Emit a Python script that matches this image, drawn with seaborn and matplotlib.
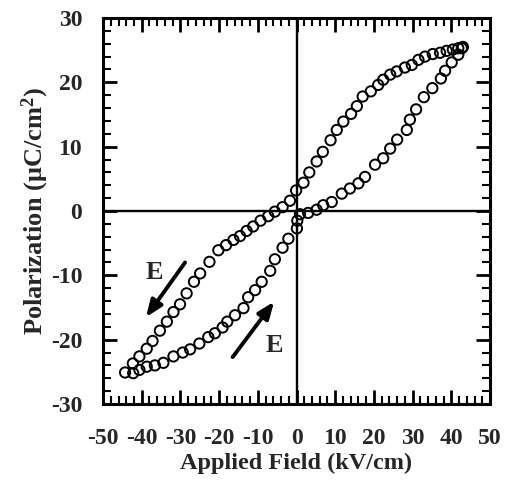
import matplotlib

matplotlib.use('Agg')
import matplotlib.pyplot as plt
import seaborn as sns
from matplotlib.ticker import MultipleLocator

# descending branch (field going from +E max to -E max)
upper_x = [43.0, 41.8, 40.4, 38.8, 37.1, 35.2, 33.2, 31.5, 29.8, 28.0, 25.9, 24.2,
           22.4, 21.1, 19.2, 17.1, 15.6, 14.1, 12.1, 10.4, 8.8, 6.8, 5.2, 3.3, 1.8,
           -0.1, -1.7, -3.6, -5.6, -7.3, -9.3, -11.2, -12.9, -14.6, -16.3, -18.2,
           -20.2, -22.5, -24.9, -26.5, -28.4, -30.1, -31.8, -33.5, -35.3, -37.2,
           -38.7, -40.6, -42.3, -44.3]
upper_y = [25.5, 25.3, 25.1, 24.9, 24.6, 24.4, 24.0, 23.5, 22.7, 22.3, 21.7, 21.2,
           20.4, 19.6, 18.6, 17.8, 16.3, 15.1, 13.9, 12.6, 11.0, 9.2, 7.7, 6.0, 4.4,
           3.2, 1.6, 0.6, -0.1, -0.8, -1.5, -2.4, -3.1, -3.9, -4.5, -5.3,
           -6.1, -7.9, -9.7, -11.0, -12.8, -14.5, -15.7, -17.2, -18.6, -20.2,
           -21.4, -22.6, -23.7, -25.1]

# ascending branch (field going from -E max to +E max)
lower_x = [-42.2, -40.6, -38.7, -36.6, -34.4, -31.8, -29.4, -27.5, -25.1, -22.8,
           -21.1, -19.1, -17.9, -15.9, -13.7, -12.5, -10.7, -9.0, -6.8, -5.6, -3.6,
           -2.1, 0.1, 0.2, 0.9, 3.0, 5.2, 6.9, 9.1, 11.7, 13.8, 16.0, 17.7, 20.3,
           22.4, 24.2, 26.0, 28.5, 29.3, 30.9, 32.9, 35.1, 37.3, 38.4, 40.1, 41.8, 42.7]
lower_y = [-25.2, -24.7, -24.2, -24.0, -23.6, -22.6, -22.0, -21.5, -20.6, -19.6,
           -19.0, -18.1, -17.2, -16.2, -15.1, -13.4, -12.3, -11.0, -9.3, -7.5, -5.7,
           -4.3, -2.7, -1.5, -0.5, -0.3, 0.2, 0.9, 1.4, 2.7, 3.5, 4.3, 5.3, 7.2,
           8.2, 9.7, 11.1, 12.6, 14.2, 15.8, 17.7, 19.1, 20.6, 21.8, 23.1, 24.3, 25.3]

# field direction arrows: (tail, head, label position)
arrow_tails = [(-28.8, -8.0), (-16.5, -22.7)]
arrow_heads = [(-38.9, -16.5), (-5.8, -14.1)]
arrow_labels = [(-36.8, -9.6), (-5.8, -20.9)]

sns.set_style('ticks')
plt.rcParams['font.family'] = ['Liberation Serif', 'DejaVu Serif']
plt.rcParams['font.weight'] = 'bold'
plt.rcParams['axes.unicode_minus'] = False
plt.rcParams['mathtext.fontset'] = 'custom'
plt.rcParams['mathtext.rm'] = 'Liberation Serif:bold'
plt.rcParams['mathtext.it'] = 'Liberation Serif:bold'
plt.rcParams['mathtext.bf'] = 'Liberation Serif:bold'

fig = plt.figure(figsize=(5.06, 4.87), dpi=100)
ax = fig.add_axes([0.2036, 0.1704, 0.7648, 0.7926])

ax.axhline(0, color='black', lw=1.7, zorder=1)
ax.axvline(0, color='black', lw=1.7, zorder=1)

for xs, ys in [(upper_x, upper_y), (lower_x, lower_y)]:
    sns.scatterplot(x=xs, y=ys, ax=ax, marker='o', s=55, fc='none',
                    ec='black', linewidth=1.4, zorder=3)

for tail, head, lab in zip(arrow_tails, arrow_heads, arrow_labels):
    ax.annotate('', xy=head, xytext=tail,
                arrowprops=dict(arrowstyle='-|>,head_length=1.0,head_width=0.4',
                                lw=2.8, color='black', shrinkA=0, shrinkB=0))
    ax.text(lab[0], lab[1], 'E', fontsize=19, fontweight='bold',
            ha='center', va='center')

ax.set_xlim(-50, 50)
ax.set_ylim(-30, 30)
ax.xaxis.set_major_locator(MultipleLocator(10))
ax.xaxis.set_minor_locator(MultipleLocator(2))
ax.yaxis.set_major_locator(MultipleLocator(10))
ax.yaxis.set_minor_locator(MultipleLocator(2))
ax.tick_params(which='both', direction='in', top=True, right=True, color='black')
ax.tick_params(which='major', length=10, width=2.0, labelsize=17)
ax.tick_params(axis='x', which='major', pad=17)
ax.tick_params(axis='y', which='major', pad=15)
ax.tick_params(which='minor', length=5.5, width=1.5)
for sp in ax.spines.values():
    sp.set_linewidth(2.2)
    sp.set_color('black')

ax.set_xlabel('Applied Field (kV/cm)', fontsize=17.5, fontweight='bold', labelpad=3)
ax.set_ylabel(r'Polarization (μC/cm$^2$)', fontsize=19, fontweight='bold', labelpad=0)

fig.savefig('out.png', dpi=100)
